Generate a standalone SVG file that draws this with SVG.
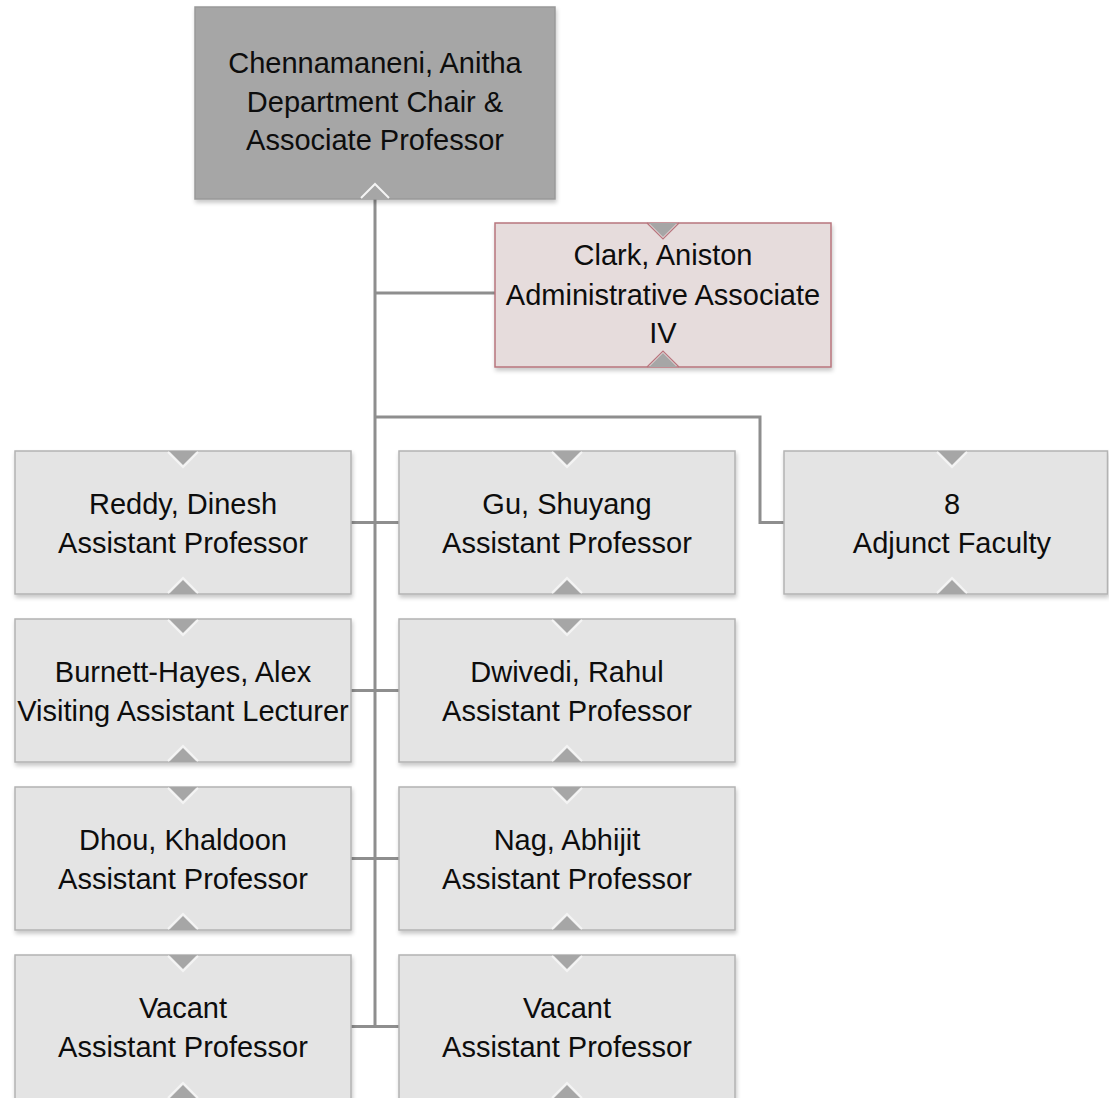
<svg xmlns="http://www.w3.org/2000/svg" width="1109" height="1098" viewBox="0 0 1109 1098">
<defs>
<filter id="sh" x="-5%" y="-5%" width="112%" height="115%">
<feDropShadow dx="1" dy="3" stdDeviation="2" flood-color="#000" flood-opacity="0.22"/>
</filter>
</defs>
<style>
.box{fill:#e4e4e4;stroke:#b3b3b3;stroke-width:1.5;filter:url(#sh)}
.top{fill:#a6a6a6;stroke:#999999;stroke-width:1.5;filter:url(#sh)}
.adm{fill:#e6dcdc;stroke:#b8757d;stroke-width:1.5;filter:url(#sh)}
.tri{fill:#a6a6a6;stroke:none}
.vline{fill:none;stroke:#f4f4f4;stroke-width:2}
.vb{fill:none;stroke:#b3b3b3;stroke-width:1.2}
.vr{fill:none;stroke:#b8757d;stroke-width:1.2}
text{font-family:"Liberation Sans",Arial,sans-serif;font-size:29px;fill:#0d0d0d;text-anchor:middle}
.conn{fill:none;stroke:#8e8e8e;stroke-width:3}
</style>

<g id="connectors">
<path class="conn" d="M375,192 V1026.5"/>
<path class="conn" d="M375,293 H495"/>
<path class="conn" d="M351,522.5 H399"/>
<path class="conn" d="M351,690.5 H399"/>
<path class="conn" d="M351,858.5 H399"/>
<path class="conn" d="M351,1026.5 H399"/>
<path class="conn" d="M375,417 H760 V522.5 H784"/>
</g>

<g id="chair">
<rect class="top" x="195" y="7" width="360" height="192"/>
<polygon class="tri" points="361,199 375,185 389,199"/>
<polyline class="vline" points="361,198 375,184 389,198"/>
<text x="375" y="73">Chennamaneni, Anitha</text>
<text x="375" y="112">Department Chair &amp;</text>
<text x="375" y="150">Associate Professor</text>
</g>

<g id="clark">
<rect class="adm" x="495" y="223" width="336" height="144"/>
<polygon class="tri" points="649,223 663,237 677,223"/>
<polyline class="vr" points="647,223 663,239 679,223"/>
<polygon class="tri" points="649,367 663,353 677,367"/>
<polyline class="vr" points="647,367 663,351 679,367"/>
<text x="663" y="265">Clark, Aniston</text>
<text x="663" y="305">Administrative Associate</text>
<text x="663" y="343">IV</text>
</g>

<g id="reddy">
<rect class="box" x="15" y="451" width="336" height="143"/>
<polygon class="tri" points="169,451 183,465 197,451"/><polyline class="vline" points="168,452 183,467 198,452"/>
<polygon class="tri" points="169,594 183,580 197,594"/><polyline class="vline" points="168,593 183,578 198,593"/>
<text x="183" y="514">Reddy, Dinesh</text>
<text x="183" y="553">Assistant Professor</text>
</g>

<g id="gu">
<rect class="box" x="399" y="451" width="336" height="143"/>
<polygon class="tri" points="553,451 567,465 581,451"/><polyline class="vline" points="552,452 567,467 582,452"/>
<polygon class="tri" points="553,594 567,580 581,594"/><polyline class="vline" points="552,593 567,578 582,593"/>
<text x="567" y="514">Gu, Shuyang</text>
<text x="567" y="553">Assistant Professor</text>
</g>

<g id="adjunct">
<rect class="box" x="784" y="451" width="323.5" height="143"/>
<polygon class="tri" points="938,451 952,465 966,451"/><polyline class="vline" points="937,452 952,467 967,452"/>
<polygon class="tri" points="938,594 952,580 966,594"/><polyline class="vline" points="937,593 952,578 967,593"/>
<text x="952" y="514">8</text>
<text x="952" y="553">Adjunct Faculty</text>
</g>

<g id="burnett">
<rect class="box" x="15" y="619" width="336" height="143"/>
<polygon class="tri" points="169,619 183,633 197,619"/><polyline class="vline" points="168,620 183,635 198,620"/>
<polygon class="tri" points="169,762 183,748 197,762"/><polyline class="vline" points="168,761 183,746 198,761"/>
<text x="183" y="682">Burnett-Hayes, Alex</text>
<text x="183" y="721">Visiting Assistant Lecturer</text>
</g>

<g id="dwivedi">
<rect class="box" x="399" y="619" width="336" height="143"/>
<polygon class="tri" points="553,619 567,633 581,619"/><polyline class="vline" points="552,620 567,635 582,620"/>
<polygon class="tri" points="553,762 567,748 581,762"/><polyline class="vline" points="552,761 567,746 582,761"/>
<text x="567" y="682">Dwivedi, Rahul</text>
<text x="567" y="721">Assistant Professor</text>
</g>

<g id="dhou">
<rect class="box" x="15" y="787" width="336" height="143"/>
<polygon class="tri" points="169,787 183,801 197,787"/><polyline class="vline" points="168,788 183,803 198,788"/>
<polygon class="tri" points="169,930 183,916 197,930"/><polyline class="vline" points="168,929 183,914 198,929"/>
<text x="183" y="850">Dhou, Khaldoon</text>
<text x="183" y="889">Assistant Professor</text>
</g>

<g id="nag">
<rect class="box" x="399" y="787" width="336" height="143"/>
<polygon class="tri" points="553,787 567,801 581,787"/><polyline class="vline" points="552,788 567,803 582,788"/>
<polygon class="tri" points="553,930 567,916 581,930"/><polyline class="vline" points="552,929 567,914 582,929"/>
<text x="567" y="850">Nag, Abhijit</text>
<text x="567" y="889">Assistant Professor</text>
</g>

<g id="vacant1">
<rect class="box" x="15" y="955" width="336" height="145"/>
<polygon class="tri" points="169,955 183,969 197,955"/><polyline class="vline" points="168,956 183,971 198,956"/>
<polygon class="tri" points="169,1099 183,1085 197,1099"/><polyline class="vline" points="168,1098 183,1083 198,1098"/>
<text x="183" y="1018">Vacant</text>
<text x="183" y="1057">Assistant Professor</text>
</g>

<g id="vacant2">
<rect class="box" x="399" y="955" width="336" height="145"/>
<polygon class="tri" points="553,955 567,969 581,955"/><polyline class="vline" points="552,956 567,971 582,956"/>
<polygon class="tri" points="553,1099 567,1085 581,1099"/><polyline class="vline" points="552,1098 567,1083 582,1098"/>
<text x="567" y="1018">Vacant</text>
<text x="567" y="1057">Assistant Professor</text>
</g>
</svg>
